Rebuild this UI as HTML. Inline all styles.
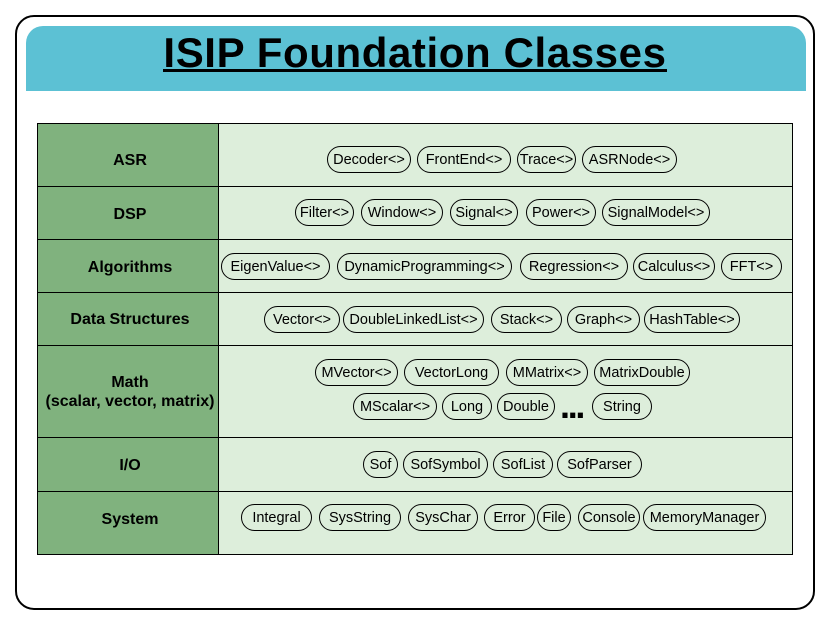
<!DOCTYPE html>
<html>
<head>
<meta charset="utf-8">
<style>
  html, body { margin:0; padding:0; background:#ffffff; }
  body { width:830px; height:628px; position:relative; overflow:hidden;
         font-family:"Liberation Sans", Arial, sans-serif; }
  .abs { position:absolute; }
  .frame { left:15px; top:15px; width:800px; height:595px; box-sizing:border-box;
           border:2px solid #000; border-radius:19px; }
  .banner { left:26px; top:26px; width:780px; height:65px; background:#5cc1d4;
            border-radius:17px 17px 0 0; }
  .title { left:0; top:32px; width:830px; text-align:center; font-weight:bold;
           font-size:42px; line-height:42px; letter-spacing:0.6px; color:#000; white-space:nowrap; }
  .uline { left:163px; top:69px; width:504px; height:3px; background:#000; }
  .tbl { left:37px; top:123px; width:756px; height:432px; box-sizing:border-box;
         border:1px solid #000; background:#ddeedb; }
  .lcol { left:37px; top:123px; width:182px; height:432px; box-sizing:border-box;
          border:1px solid #000; background:#80b27e; }
  .hl { left:37px; width:756px; height:1px; background:#000; }
  .lab { left:39px; width:182px; text-align:center; font-weight:bold; font-size:16px;
         line-height:16px; color:#000; white-space:nowrap; }
  .p { position:absolute; height:27px; box-sizing:border-box; border:1px solid #000;
       border-radius:13.5px; font-size:14.5px; line-height:24px; padding-top:1px;
       text-align:center; white-space:nowrap; color:#000; background:#ddeedb; }
  .dots { left:560px; top:388px; font-weight:bold; font-size:36px; line-height:36px;
          letter-spacing:-2.3px; color:#000; white-space:nowrap; }
</style>
</head>
<body>
  <div class="abs frame"></div>
  <div class="abs banner"></div>
  <div class="abs title">ISIP Foundation Classes</div>
  <div class="abs uline"></div>

  <div class="abs tbl"></div>
  <div class="abs lcol"></div>
  <div class="abs hl" style="top:186px"></div>
  <div class="abs hl" style="top:239px"></div>
  <div class="abs hl" style="top:292px"></div>
  <div class="abs hl" style="top:345px"></div>
  <div class="abs hl" style="top:437px"></div>
  <div class="abs hl" style="top:491px"></div>

  <div class="abs lab" style="top:153px">ASR</div>
  <div class="abs lab" style="top:207px">DSP</div>
  <div class="abs lab" style="top:260px">Algorithms</div>
  <div class="abs lab" style="top:312px">Data Structures</div>
  <div class="abs lab" style="top:375px">Math</div>
  <div class="abs lab" style="top:394px">(scalar, vector, matrix)</div>
  <div class="abs lab" style="top:458px">I/O</div>
  <div class="abs lab" style="top:512px">System</div>

  <!-- ASR -->
  <div class="p" style="left:327px;top:146px;width:84px">Decoder&lt;&gt;</div>
  <div class="p" style="left:417px;top:146px;width:94px">FrontEnd&lt;&gt;</div>
  <div class="p" style="left:517px;top:146px;width:59px">Trace&lt;&gt;</div>
  <div class="p" style="left:582px;top:146px;width:95px">ASRNode&lt;&gt;</div>

  <!-- DSP -->
  <div class="p" style="left:295px;top:199px;width:59px">Filter&lt;&gt;</div>
  <div class="p" style="left:361px;top:199px;width:82px">Window&lt;&gt;</div>
  <div class="p" style="left:450px;top:199px;width:68px">Signal&lt;&gt;</div>
  <div class="p" style="left:526px;top:199px;width:70px">Power&lt;&gt;</div>
  <div class="p" style="left:602px;top:199px;width:108px">SignalModel&lt;&gt;</div>

  <!-- Algorithms -->
  <div class="p" style="left:221px;top:253px;width:109px">EigenValue&lt;&gt;</div>
  <div class="p" style="left:337px;top:253px;width:175px">DynamicProgramming&lt;&gt;</div>
  <div class="p" style="left:520px;top:253px;width:108px">Regression&lt;&gt;</div>
  <div class="p" style="left:633px;top:253px;width:82px">Calculus&lt;&gt;</div>
  <div class="p" style="left:721px;top:253px;width:61px">FFT&lt;&gt;</div>

  <!-- Data Structures -->
  <div class="p" style="left:264px;top:306px;width:76px">Vector&lt;&gt;</div>
  <div class="p" style="left:343px;top:306px;width:141px">DoubleLinkedList&lt;&gt;</div>
  <div class="p" style="left:491px;top:306px;width:71px">Stack&lt;&gt;</div>
  <div class="p" style="left:567px;top:306px;width:73px">Graph&lt;&gt;</div>
  <div class="p" style="left:644px;top:306px;width:96px">HashTable&lt;&gt;</div>

  <!-- Math row 1 -->
  <div class="p" style="left:315px;top:359px;width:83px">MVector&lt;&gt;</div>
  <div class="p" style="left:404px;top:359px;width:95px">VectorLong</div>
  <div class="p" style="left:506px;top:359px;width:82px">MMatrix&lt;&gt;</div>
  <div class="p" style="left:594px;top:359px;width:96px">MatrixDouble</div>

  <!-- Math row 2 -->
  <div class="p" style="left:353px;top:393px;width:84px">MScalar&lt;&gt;</div>
  <div class="p" style="left:442px;top:393px;width:50px">Long</div>
  <div class="p" style="left:497px;top:393px;width:58px">Double</div>
  <div class="abs dots">...</div>
  <div class="p" style="left:592px;top:393px;width:60px">String</div>

  <!-- I/O -->
  <div class="p" style="left:363px;top:451px;width:35px">Sof</div>
  <div class="p" style="left:403px;top:451px;width:85px">SofSymbol</div>
  <div class="p" style="left:493px;top:451px;width:60px">SofList</div>
  <div class="p" style="left:557px;top:451px;width:85px">SofParser</div>

  <!-- System -->
  <div class="p" style="left:241px;top:504px;width:71px">Integral</div>
  <div class="p" style="left:319px;top:504px;width:82px">SysString</div>
  <div class="p" style="left:408px;top:504px;width:70px">SysChar</div>
  <div class="p" style="left:484px;top:504px;width:51px">Error</div>
  <div class="p" style="left:537px;top:504px;width:34px">File</div>
  <div class="p" style="left:578px;top:504px;width:62px">Console</div>
  <div class="p" style="left:643px;top:504px;width:123px">MemoryManager</div>
</body>
</html>
